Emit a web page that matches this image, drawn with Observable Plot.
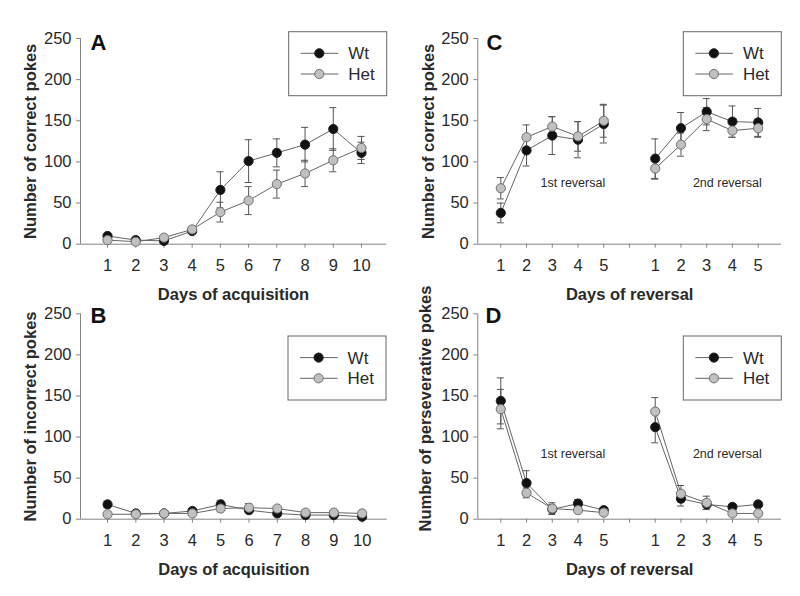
<!DOCTYPE html>
<html><head><meta charset="utf-8">
<script src="https://cdn.jsdelivr.net/npm/d3@7"></script>
<script src="https://cdn.jsdelivr.net/npm/@observablehq/plot@0.6"></script>
<style>
body{margin:0;background:#fff;}
#wrap{position:relative;width:800px;height:596px;background:#fff;overflow:hidden;font-family:"Liberation Sans",Arial,sans-serif;}
.panel{position:absolute;}
.panel svg{overflow:visible;background:transparent !important;}
</style></head><body><div id="wrap"></div>
<script>
// ---- categories / ticks ----
const acqDays = [1,2,3,4,5,6,7,8,9,10];
const acqTickLabels = ["1","2","3","4","5","6","7","8","9","10"];
const revPos = [1,2,3,4,5,7,8,9,10,11];
const revBlock = [1,1,1,1,1,2,2,2,2,2];
const revTickPos = [1,2,3,4,5,6,7,8,9,10,11];
const revTickLabels = ["1","2","3","4","5","","1","2","3","4","5"];
const yTicks = [0,50,100,150,200,250];
const seriesNames = ["Wt","Het"];

// ---- A: correct pokes, acquisition ----
const aWt = [10,5,4,16,66,101,111,121,140,111];
const aWtErr = [3,2,2,3,22,26,17,21,26,13];
const aHet = [5,3,8,18,39,53,73,86,102,117];
const aHetErr = [2,1,2,3,12,17,17,16,14,14];

// ---- B: incorrect pokes, acquisition ----
const bWt = [18,7,7,10,18,11,7,5,5,3];
const bWtErr = [4,2,2,2,5,3,2,2,2,1];
const bHet = [6,6,7,7,13,14,13,8,8,7];
const bHetErr = [2,2,2,2,4,5,3,2,2,2];

// ---- C: correct pokes, reversal ----
const cWt = [38,114,132,127,146,104,141,161,149,148];
const cWtErr = [12,19,23,22,23,24,19,16,19,17];
const cHet = [68,130,143,131,150,92,121,152,138,141];
const cHetErr = [13,15,12,18,20,13,14,14,8,11];

// ---- D: perseverative pokes, reversal ----
const dWt = [144,44,12,19,11,112,25,18,15,18];
const dWtErr = [28,15,6,5,3,19,9,6,3,3];
const dHet = [134,32,13,11,8,131,31,20,7,7];
const dHetErr = [24,6,7,3,2,17,10,8,2,2];

// ---- annotations ----
const revLabels = ["1st reversal","2nd reversal"];
const revLabelX = [3.8,9.8];
const revLabelYC = [74,74];
const revLabelYD = [79,79];

const FONT = "Liberation Sans, Arial, sans-serif";
const AXIS = "#858585";
const INK = "#2a2a2a";

function rows(xs, blocks, vals, errs, series){
  return xs.map((x,i)=>({x, block: blocks ? blocks[i] : 1, v: vals[i], e: errs[i], series}));
}

function legend(svg, bx, by){
  const g = d3.select(svg).append("g").attr("font-family", FONT).attr("text-anchor","start");
  g.append("rect").attr("x",bx).attr("y",by).attr("width",98).attr("height",64)
    .attr("fill","#fff").attr("stroke","#666").attr("stroke-width",1);
  const items = [
    {name: seriesNames[0], fill:"#111", stroke:"#222", dy:21.6},
    {name: seriesNames[1], fill:"#c0c0c0", stroke:"#707070", dy:42.3}
  ];
  for (const it of items){
    g.append("line").attr("x1",bx+12).attr("x2",bx+49.6).attr("y1",by+it.dy).attr("y2",by+it.dy)
      .attr("stroke","#666").attr("stroke-width",1);
    g.append("circle").attr("cx",bx+30.6).attr("cy",by+it.dy).attr("r",4.6)
      .attr("fill",it.fill).attr("stroke",it.stroke).attr("stroke-width",1);
    g.append("text").attr("x",bx+59.6).attr("y",by+it.dy).attr("dy","0.36em")
      .attr("text-anchor","start").attr("font-size",17).attr("fill",INK).text(it.name);
  }
}

function panel(cfg){
  const wt = rows(cfg.xs, cfg.blocks, cfg.wt, cfg.wtErr, "Wt");
  const het = rows(cfg.xs, cfg.blocks, cfg.het, cfg.hetErr, "Het");
  const all = wt.concat(het);
  const capHalf = cfg.capHalf;
  const marks = [
    Plot.ruleY([0], {stroke: AXIS}),
    Plot.ruleX([cfg.xDomain[0]], {stroke: AXIS}),
    Plot.axisY({ticks: yTicks, tickSize: 4, tickPadding: 5, fontSize: 16.5, stroke: AXIS, color: INK, label: null}),
    Plot.axisX({ticks: cfg.tickPos, tickFormat: (d)=>cfg.tickLabels[cfg.tickPos.indexOf(d)], tickSize: 4, tickPadding: 11, fontSize: 16.5, stroke: AXIS, color: INK, label: null}),
    Plot.line(all, {x:"x", y:"v", z: d=>d.series+"-"+d.block, stroke:"#666", strokeWidth:1}),
    Plot.ruleX(all, {x:"x", y1: d=>d.v-d.e, y2: d=>d.v+d.e, stroke:"#555", strokeWidth:1}),
    Plot.ruleY(all, {y: d=>d.v+d.e, x1: d=>d.x-capHalf, x2: d=>d.x+capHalf, stroke:"#555", strokeWidth:1}),
    Plot.ruleY(all, {y: d=>Math.max(0,d.v-d.e), x1: d=>d.x-capHalf, x2: d=>d.x+capHalf, stroke:"#555", strokeWidth:1}),
    Plot.dot(wt, {x:"x", y:"v", r:4.6, fill:"#111", stroke:"#222", strokeWidth:1}),
    Plot.dot(het, {x:"x", y:"v", r:4.6, fill:"#c0c0c0", stroke:"#707070", strokeWidth:1}),
    Plot.text([cfg.ylabel], {frameAnchor:"left", rotate:-90, dx: cfg.ylabelDx, dy: cfg.ylabelDy || 0, textAnchor:"middle", lineAnchor:"middle", fontSize:16.5, fontWeight:"bold", fill:INK}),
    Plot.text([cfg.xlabel], {frameAnchor:"bottom", dy: 51, textAnchor:"middle", lineAnchor:"middle", fontSize:16.5, fontWeight:"bold", fill:INK}),
    Plot.text([cfg.letter], {frameAnchor:"top-left", dx: cfg.letterDx, dy: cfg.letterDy, textAnchor:"start", lineAnchor:"top", fontSize:22, fontWeight:"bold", fill:"#111"})
  ];
  if (cfg.annot) marks.push(Plot.text(revLabels, {x: revLabelX, y: cfg.annot, fontSize:12.5, fill:INK, textAnchor:"middle", lineAnchor:"middle"}));
  const p = Plot.plot({
    width: 400, height: 298,
    marginLeft: cfg.ml, marginRight: cfg.mr, marginTop: cfg.mt, marginBottom: cfg.mb,
    style: {fontFamily: FONT, background: "transparent", overflow: "visible"},
    x: {type:"linear", domain: cfg.xDomain},
    y: {domain: [0,250]},
    marks
  });
  legend(p, cfg.legX, cfg.legY);
  const div = document.createElement("div");
  div.className = "panel";
  div.style.left = cfg.left + "px";
  div.style.top = cfg.top + "px";
  div.appendChild(p);
  document.getElementById("wrap").appendChild(div);
}

panel({left:0, top:0, ml:80, mr:14, mt:38, mb:54.3, xDomain:[0.043,10.886],
  xs: acqDays, blocks:null, tickPos: acqDays, tickLabels: acqTickLabels,
  wt:aWt, wtErr:aWtErr, het:aHet, hetErr:aHetErr, capHalf:0.125,
  ylabel:"Number of correct pokes", ylabelDx:-50, xlabel:"Days of acquisition",
  letter:"A", letterDx:10, letterDy:-3.7, legX:288.7, legY:31.7});

panel({left:0, top:298, ml:80, mr:13.3, mt:15.3, mb:77.3, xDomain:[0.043,10.886],
  xs: acqDays, blocks:null, tickPos: acqDays, tickLabels: acqTickLabels,
  wt:bWt, wtErr:bWtErr, het:bHet, hetErr:bHetErr, capHalf:0.125,
  ylabel:"Number of incorrect pokes", ylabelDx:-50, xlabel:"Days of acquisition",
  letter:"B", letterDx:10, letterDy:-6.6, legX:288, legY:38});

panel({left:400, top:0, ml:77.3, mr:19, mt:38, mb:54.3, xDomain:[0.106,11.906],
  xs: revPos, blocks: revBlock, tickPos: revTickPos, tickLabels: revTickLabels,
  wt:cWt, wtErr:cWtErr, het:cHet, hetErr:cHetErr, capHalf:0.135,
  ylabel:"Number of correct pokes", ylabelDx:-49, xlabel:"Days of reversal",
  letter:"C", letterDx:8.7, letterDy:-3.7, legX:283.3, legY:31.7, annot: revLabelYC});

panel({left:400, top:298, ml:77.3, mr:19, mt:15.3, mb:77.3, xDomain:[0.106,11.906],
  xs: revPos, blocks: revBlock, tickPos: revTickPos, tickLabels: revTickLabels,
  wt:dWt, wtErr:dWtErr, het:dHet, hetErr:dHetErr, capHalf:0.135,
  ylabel:"Number of perseverative pokes", ylabelDx:-52, ylabelDy:-8, xlabel:"Days of reversal",
  letter:"D", letterDx:7.7, letterDy:-6.3, legX:283.3, legY:38, annot: revLabelYD});
</script></body></html>
